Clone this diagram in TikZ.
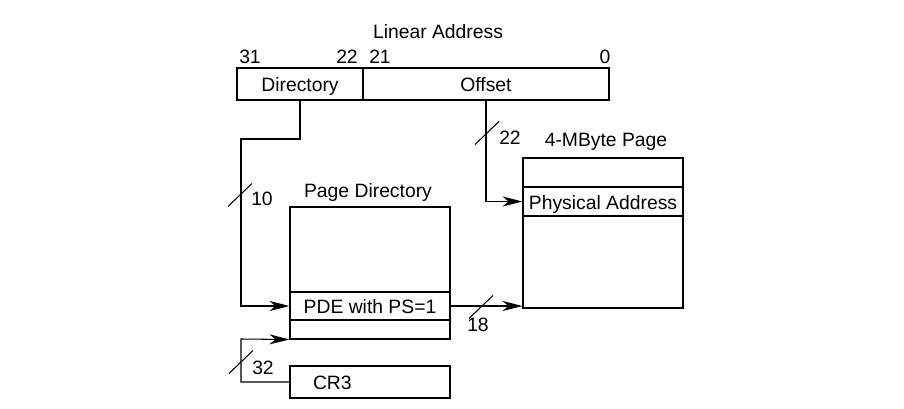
\documentclass[tikz,border=0pt]{standalone}
\usepackage{fontspec}
\setmainfont{Liberation Sans}
\usetikzlibrary{arrows.meta}

\tikzset{
  field/.style={rectangle, draw, line width=0.6pt, minimum height=0.64cm, inner sep=0pt, text height=9pt, text depth=0pt},
  entry/.style={rectangle, draw, line width=0.6pt, minimum width=3.2cm, inner sep=0pt, text height=9pt, text depth=0pt},
  lbl/.style={anchor=base, inner sep=0pt},
  arr/.style={line width=0.6pt, -{Stealth[length=4mm, width=2mm, inset=1.2mm]}},
  wire/.style={line width=0.6pt},
}

\begin{document}
\begin{tikzpicture}[x=0.02cm, y=-0.02cm, font=\fontsize{11}{13}\selectfont]
      \useasboundingbox (0,0) rectangle (904,409);

      % Nodes
      \node (title) [lbl] at (438,38) {Linear Address};
      \node (b31) [lbl] at (250,63) {31};
      \node (b22) [lbl] at (347,63) {22};
      \node (b21) [lbl] at (380,63) {21};
      \node (b0) [lbl] at (605,63) {0};
      \node (dir) at (300,84) [field, minimum width=2.52cm] {Directory};
      \node (offset) at (486,84) [field, minimum width=4.92cm] {Offset};

      \node (pdlabel) [lbl] at (368,197) {Page Directory};
      \node (pdtop) at (370,249.5) [entry, minimum height=1.7cm] {};
      \node (pde) at (370,306) [entry, minimum height=0.56cm] {PDE with PS=1};
      \node (pdbot) at (370,329.5) [entry, minimum height=0.38cm] {};

      \node (cr3) at (370,382) [field, minimum width=3.2cm, text width=2.28cm, inner xsep=0.46cm, align=left] {CR3};

      \node (pglabel) [lbl] at (606,146) {4-MByte Page};
      \node (pgtop) at (603,172.5) [entry, minimum height=0.58cm] {};
      \node (phys) at (603,201.5) [entry, minimum height=0.58cm] {Physical Address};
      \node (pgbot) at (603,262) [entry, minimum height=1.84cm] {};

      \coordinate (dirbend) at (241,139);
      \coordinate (cr3bend) at (241,339);

      % Edges
      \draw[arr] (dir.south) |- (dirbend) |- (pde.west);
      \draw[arr] (offset.south) |- (phys.west);
      \draw[arr] (pde.east) -- (pde.east -| pgbot.west);
      \draw[arr] (cr3.west) -| (cr3bend) -- (pdbot.south west);

      % Bus widths
      \draw[wire] (240,195) ++(-12,11.5) -- ++(24,-23);
      \node (w10) [lbl] at (262,205) {10};
      \draw[wire] (241,362) ++(-12,11.5) -- ++(24,-23);
      \node (w32) [lbl] at (263,374) {32};
      \draw[wire] (487,133) ++(-12,11.5) -- ++(24,-23);
      \node (w22) [lbl] at (510,144) {22};
      \draw[wire] (481,307) ++(-12,11.5) -- ++(24,-23);
      \node (w18) [lbl] at (478,331) {18};
    \end{tikzpicture}
\end{document}
